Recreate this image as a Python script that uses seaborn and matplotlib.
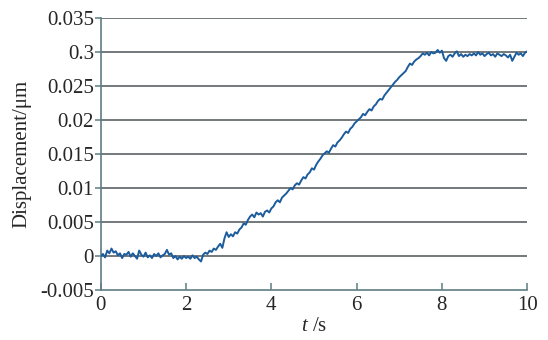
import numpy as np
import pandas as pd
import matplotlib
matplotlib.use("Agg")
import matplotlib.pyplot as plt
import seaborn as sns

# Displacement readings (units of 1e-3 um), sampled every 0.05 s from 0 to 10 s
disp_milli = [
    0.0, 0.3, -0.2, 0.8, 0.4, 1.1, 0.5, 0.7, 0.1, 0.4,
    -0.3, 0.3, 0.2, 0.6, -0.1, 0.4, 0.0, -0.4, 0.8, 0.2,
    -0.1, 0.5, -0.2, 0.1, -0.3, 0.3, 0.0, 0.4, -0.2, 0.1,
    0.3, 0.9, 0.2, 0.4, -0.3, 0.0, -0.5, -0.1, -0.4, 0.0,
    -0.3, -0.1, -0.4, 0.1, -0.3, -0.1, -0.5, -0.8, 0.2, 0.5,
    0.3, 0.8, 0.6, 1.1, 0.9, 1.4, 1.8, 1.2, 2.6, 3.5,
    2.8, 3.2, 2.9, 3.5, 3.3, 3.9, 4.2, 4.8, 4.6, 5.3,
    5.8, 6.1, 5.7, 6.4, 6.1, 6.3, 5.8, 6.5, 6.7, 6.4,
    7.0, 7.3, 7.9, 8.2, 7.9, 8.6, 8.9, 9.2, 9.6, 10.0,
    9.8, 10.4, 10.7, 10.5, 11.1, 11.6, 11.4, 12.0, 12.3, 12.9,
    12.7, 13.4, 13.9, 14.3, 14.8, 15.1, 15.4, 15.2, 15.8, 16.3,
    16.1, 16.7, 17.0, 17.4, 17.9, 18.3, 18.1, 18.7, 19.0, 19.5,
    19.8, 20.1, 20.4, 20.9, 20.7, 21.2, 21.6, 21.4, 22.0, 22.3,
    22.8, 23.1, 23.0, 23.6, 24.0, 24.4, 24.8, 25.2, 25.6, 25.9,
    26.3, 26.6, 26.9, 27.2, 27.8, 28.3, 28.1, 28.6, 28.9, 29.1,
    29.4, 29.8, 29.6, 29.9, 29.5, 30.0, 29.8, 29.9, 30.3, 29.9,
    30.2, 29.1, 28.7, 29.4, 29.6, 29.3, 29.8, 30.1, 29.4, 29.7,
    29.3, 29.6, 29.4, 29.7, 29.5, 29.8, 29.5, 30.0, 29.6, 29.8,
    29.4, 29.7, 29.9, 29.5, 29.7, 29.3, 29.8, 29.6, 29.4, 29.7,
    29.5, 29.2, 29.6, 28.7, 29.3, 29.9, 29.6, 29.8, 29.4, 29.9,
    30.1,
]
sample_step = 0.05
y_ticks = [-0.005, 0, 0.005, 0.01, 0.015, 0.02, 0.025, 0.03, 0.035]
y_tick_labels = ["-0.005", "0", "0.005", "0.01", "0.015", "0.02", "0.025", "0.3", "0.035"]
x_ticks = [0, 2, 4, 6, 8, 10]
x_tick_labels = ["0", "2", "4", "6", "8", "10"]

time = np.round(np.arange(len(disp_milli)) * sample_step, 2)
df = pd.DataFrame({"t": time, "d": np.array(disp_milli) * 1e-3})

sns.set_style("white")
plt.rcParams["font.family"] = ["Liberation Serif", "DejaVu Serif"]
plt.rcParams["mathtext.fontset"] = "custom"
plt.rcParams["mathtext.it"] = "Liberation Serif:italic"
plt.rcParams["mathtext.rm"] = "Liberation Serif"

fig = plt.figure(figsize=(5.48, 3.40), dpi=100)
ax = fig.add_axes([0.184, 0.147, 0.778, 0.800])

spine_col = "#5e7d84"
grid_col = "#4d5557"

for yv in y_ticks[1:]:
    ax.axhline(yv, color=grid_col, lw=1.1, zorder=1)

sns.lineplot(data=df, x="t", y="d", ax=ax, color="#1c5c9c", lw=1.4, zorder=3)

ax.set_xlim(0, 10)
ax.set_ylim(-0.005, 0.035)
ax.set_yticks(y_ticks)
ax.set_yticklabels(y_tick_labels)
ax.set_xticks(x_ticks)
ax.set_xticklabels(x_tick_labels)

for s in ["top", "right"]:
    ax.spines[s].set_visible(False)
for s in ["left", "bottom"]:
    ax.spines[s].set_color(spine_col)
    ax.spines[s].set_linewidth(1.2)

ax.tick_params(axis="y", direction="out", length=4, width=1.1, color=spine_col,
               labelsize=15, pad=1, left=True)
ax.tick_params(axis="x", direction="in", length=5, width=1.1, color=spine_col,
               labelsize=15, pad=4, bottom=True)
ax.set_xlabel("$t$ /s", fontsize=15, labelpad=2)
ax.set_ylabel("Displacement/\u03bcm", fontsize=15, labelpad=6)

fig.savefig("out.png", dpi=100)
